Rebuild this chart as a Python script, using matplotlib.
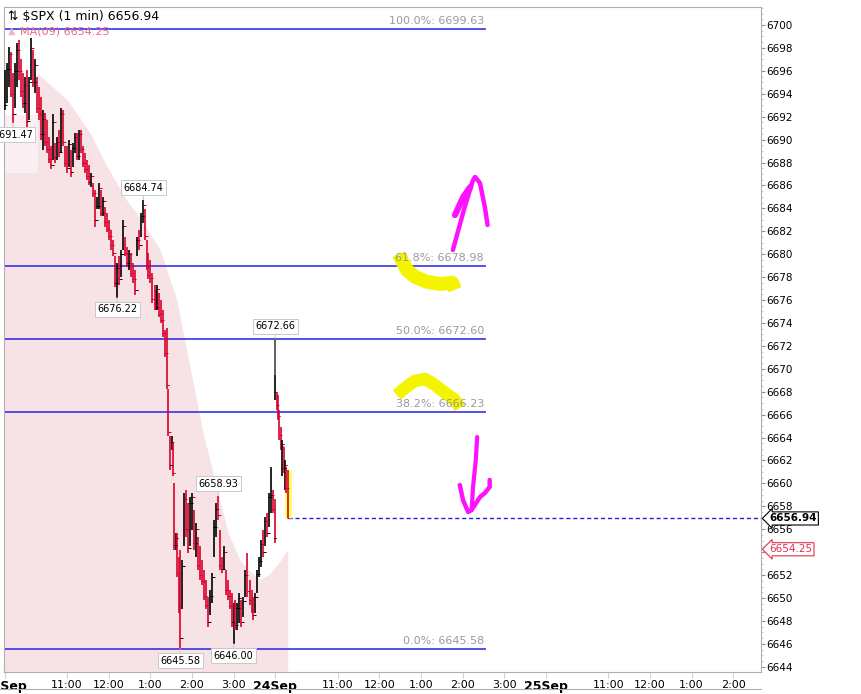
import matplotlib
matplotlib.use('Agg')
import matplotlib.pyplot as plt
from matplotlib.lines import Line2D
from matplotlib.ticker import MultipleLocator
import numpy as np

# $SPX 1 min bars, read about every 3 minutes (minutes from 23Sep 9:30)
bar_min = [0, 3, 6, 9, 12, 15, 18, 21, 24, 27, 29, 32, 35, 38, 41, 44, 47, 50, 52, 55,
           58, 61, 64, 67, 70, 73, 75, 78, 81, 84, 87, 90, 93, 96, 98, 101, 104, 107, 110, 113,
           116, 119, 122, 124, 127, 130, 133, 136, 139, 142, 145, 148, 151, 153, 156, 159, 162, 165, 168, 171,
           174, 177, 179, 182, 185, 188, 191, 194, 197, 200, 202, 205, 207, 210, 213, 216, 218, 220, 222, 225,
           228, 231, 234, 236, 238, 241, 243, 244, 247, 249, 251, 253, 256, 259, 261, 264, 267, 270, 273, 276,
           279, 281, 284, 287, 290, 293, 296, 299, 302, 305, 308, 310, 313, 316, 319, 322, 325, 328, 330, 332,
           335, 338, 341, 344, 347, 350, 353, 356, 358, 361, 364, 367, 370, 373, 375, 378, 381, 384, 387, 389,
           390, 392, 394, 396, 398, 400, 402, 404, 406, 408]
bar_high = [6696.1, 6696.7, 6698.1, 6697.6, 6695.8, 6696.7, 6698.4, 6698.7, 6697.0, 6695.8, 6695.5, 6696.1, 6695.5, 6698.9, 6697.8, 6697.0, 6695.5, 6694.6, 6693.7, 6692.6,
            6692.3, 6691.7, 6690.2, 6689.4, 6692.2, 6689.7, 6690.2, 6690.8, 6692.8, 6692.6, 6689.4, 6689.4, 6690.0, 6689.1, 6689.7, 6690.6, 6690.6, 6690.8, 6690.8, 6689.4,
            6688.8, 6688.2, 6687.8, 6687.1, 6686.2, 6685.6, 6685.0, 6686.2, 6685.6, 6685.0, 6684.1, 6683.6, 6683.0, 6682.1, 6681.2, 6679.8, 6679.2, 6679.8, 6680.4, 6683.0,
            6681.5, 6680.6, 6680.4, 6680.1, 6679.2, 6678.6, 6681.5, 6682.1, 6683.6, 6684.74, 6683.9, 6681.2, 6680.1, 6679.5, 6678.4, 6677.3, 6676.9, 6677.3, 6676.6, 6676.0,
            6675.1, 6673.4, 6673.6, 6668.2, 6664.1, 6664.1, 6663.5, 6660.0, 6655.7, 6655.7, 6653.6, 6654.2, 6653.3, 6659.2, 6659.4, 6658.3, 6658.8, 6659.2, 6657.7, 6656.5,
            6655.3, 6654.5, 6653.3, 6652.4, 6651.6, 6650.1, 6650.7, 6652.2, 6656.8, 6658.3, 6658.93, 6655.9, 6653.6, 6654.5, 6652.4, 6651.6, 6650.7, 6650.4, 6649.6, 6649.8,
            6649.6, 6650.4, 6649.8, 6650.1, 6652.4, 6653.9, 6651.6, 6650.7, 6650.1, 6650.4, 6652.4, 6653.6, 6655.1, 6655.9, 6657.1, 6657.4, 6659.2, 6661.4, 6659.4, 6658.6,
            6672.66, 6667.9, 6667.7, 6666.4, 6664.9, 6663.8, 6663.2, 6662.0, 6661.4, 6661.2]
bar_low = [6692.6, 6693.2, 6694.6, 6693.7, 6691.47, 6692.8, 6694.6, 6695.2, 6693.7, 6692.8, 6692.3, 6690.8, 6691.7, 6695.2, 6694.6, 6694.1, 6692.3, 6691.7, 6690.0, 6689.1,
           6689.4, 6688.8, 6688.0, 6687.4, 6688.2, 6688.0, 6688.2, 6688.5, 6688.8, 6689.4, 6687.6, 6687.1, 6687.6, 6686.7, 6687.6, 6688.8, 6688.2, 6688.2, 6688.8, 6687.6,
           6687.1, 6686.5, 6686.0, 6685.9, 6685.0, 6682.4, 6683.9, 6683.9, 6683.3, 6683.3, 6682.4, 6681.9, 6681.2, 6680.4, 6679.8, 6677.1, 6676.22, 6677.3, 6678.0, 6680.4,
           6679.8, 6678.9, 6678.6, 6678.0, 6677.5, 6676.4, 6679.8, 6680.4, 6681.5, 6682.7, 6681.2, 6678.6, 6677.8, 6677.5, 6675.7, 6675.1, 6675.1, 6675.1, 6674.5, 6674.0,
           6672.8, 6671.0, 6668.2, 6664.1, 6661.2, 6662.9, 6660.6, 6654.2, 6654.2, 6651.8, 6648.7, 6645.58, 6649.0, 6654.5, 6655.3, 6653.9, 6654.5, 6655.9, 6654.2, 6653.6,
           6652.4, 6651.6, 6651.1, 6649.8, 6649.0, 6647.5, 6648.5, 6649.6, 6653.6, 6655.3, 6656.8, 6652.4, 6652.2, 6652.4, 6650.3, 6649.8, 6649.0, 6647.5, 6646.0, 6647.2,
           6647.2, 6647.8, 6647.5, 6648.3, 6650.1, 6650.1, 6649.4, 6648.7, 6648.1, 6648.7, 6650.4, 6651.8, 6652.7, 6653.6, 6654.5, 6655.3, 6656.2, 6657.4, 6657.4, 6654.8,
           6667.3, 6666.4, 6665.5, 6663.8, 6662.9, 6660.6, 6660.9, 6659.4, 6659.2, 6656.94]
bar_close = [6693.0, 6696.2, 6697.5, 6694.0, 6692.2, 6696.0, 6697.8, 6696.0, 6694.2, 6693.2, 6694.8, 6691.6, 6695.0, 6698.0, 6695.0, 6696.5, 6692.8, 6692.2, 6690.5, 6691.8,
             6689.8, 6689.2, 6688.3, 6687.8, 6691.5, 6688.5, 6689.8, 6688.9, 6692.2, 6689.8, 6688.0, 6687.5, 6689.6, 6687.2, 6689.3, 6690.2, 6688.6, 6690.5, 6689.2, 6688.0,
             6687.4, 6686.8, 6686.3, 6686.8, 6685.3, 6683.0, 6684.2, 6685.8, 6683.6, 6684.6, 6682.8, 6682.2, 6681.6, 6680.8, 6680.1, 6677.5, 6678.8, 6677.8, 6680.0, 6682.5,
             6680.1, 6679.2, 6680.0, 6678.4, 6677.8, 6676.9, 6681.2, 6680.8, 6683.3, 6684.3, 6681.6, 6679.0, 6678.2, 6677.9, 6676.1, 6675.6, 6675.4, 6677.0, 6674.8, 6674.3,
             6673.1, 6671.4, 6668.6, 6664.5, 6661.6, 6663.6, 6660.9, 6654.6, 6655.2, 6652.2, 6649.2, 6646.5, 6652.8, 6658.6, 6656.0, 6654.4, 6658.3, 6658.8, 6654.8, 6656.0,
             6652.9, 6652.0, 6651.5, 6650.2, 6649.4, 6647.9, 6650.2, 6651.8, 6656.2, 6657.8, 6657.2, 6652.9, 6652.5, 6654.0, 6650.7, 6650.2, 6649.3, 6647.9, 6649.2, 6647.6,
             6649.1, 6650.0, 6647.9, 6649.7, 6652.0, 6650.6, 6649.8, 6649.0, 6648.5, 6650.1, 6652.1, 6653.2, 6654.7, 6654.0, 6656.7, 6655.7, 6658.8, 6659.0, 6657.8, 6655.2,
             6668.0, 6666.8, 6665.9, 6664.2, 6663.3, 6663.4, 6661.3, 6661.6, 6659.6, 6656.94]
open_gap_top = 6669.5  # the 24Sep opening bar is drawn grey above this

# shaded MA(09) band
ma_min = [47, 90, 123, 148, 176, 195, 224, 248, 267, 286, 303, 322, 339, 354, 368, 382, 397, 408]
ma_val = [6695.8, 6693.5, 6690.6, 6687.6, 6684.7, 6683.2, 6680.4, 6676.0, 6670.2, 6664.4,
          6660.3, 6655.7, 6653.3, 6652.3, 6651.6, 6652.1, 6653.2, 6654.25]
early_min = [-1, 48]
early_top = 6692.15
early_mid = 6687.1

# Fibonacci retracement
fib_pct = ['100.0%', '61.8%', '50.0%', '38.2%', '0.0%']
fib_val = [6699.63, 6678.98, 6672.60, 6666.23, 6645.58]
fib_end = 694

# high / low call-outs
callout_min = [12, 200, 162, 390, 308, 253, 330]
callout_val = [6691.47, 6684.74, 6676.22, 6672.66, 6658.93, 6645.58, 6646.00]
callout_side = ['below', 'above', 'below', 'above', 'above', 'below', 'below']

last_price = 6656.94
ma_last = 6654.25

# x axis
day_ticks = [0, 390, 780]
day_labels = ['23Sep', '24Sep', '25Sep']
hour_ticks = [90, 150, 210, 270, 330, 480, 540, 600, 660, 720, 870, 930, 990, 1050]
hour_labels = ['11:00', '12:00', '1:00', '2:00', '3:00', '11:00', '12:00', '1:00', '2:00', '3:00',
               '11:00', '12:00', '1:00', '2:00']
y_ticks = list(range(6644, 6702, 2))
y_hidden = [6654]  # covered by the MA price tag

# hand drawn marks
yellow1_min = [568, 572, 580, 592, 608, 627, 645, 649]
yellow1_val = [6680.0, 6679.5, 6678.6, 6678.0, 6677.6, 6677.4, 6677.5, 6676.9]
yellow2_min = [565, 577, 591, 606, 620, 635, 649, 656]
yellow2_val = [6667.71, 6668.32, 6668.94, 6669.11, 6668.59, 6667.89, 6667.28, 6666.58]
up_min = [646, 663, 675, 678, 685, 692, 696]
up_val = [6680.37, 6684.12, 6686.47, 6686.74, 6686.21, 6684.12, 6682.55]
upbarb_min = [649, 661, 671]
upbarb_val = [6683.42, 6684.99, 6685.86]
down_min = [681, 679, 675, 673]
down_val = [6664.05, 6662.04, 6659.69, 6657.68]
downbarb_min = [656, 660.5, 668, 673, 685, 692, 699, 699]
downbarb_val = [6659.86, 6658.55, 6657.50, 6657.68, 6658.81, 6659.16, 6659.69, 6660.30]

W, H = 861, 694
fig = plt.figure(figsize=(W / 100, H / 100), dpi=100, facecolor='white')
ax = fig.add_axes([4 / W, 22 / H, 757 / W, 665 / H])
ymin, ymax = 6643.54, 6701.57
xmin, xmax = -0.9, 1090
ax.set_xlim(xmin, xmax)
ax.set_ylim(ymin, ymax)

pink = '#f7e3e5'
ax.fill_between(ma_min, ma_val, ymin, color=pink, lw=0, zorder=1)
ax.fill_between(early_min, early_mid, ymin, color=pink, lw=0, zorder=1)
ax.fill_between(early_min, early_top, early_mid, color='#fbeff3', lw=0, zorder=1)

blue = '#2323e6'
ax.hlines(fib_val, xmin, fib_end, colors=blue, lw=1.1, zorder=2)
for pct, v in zip(fib_pct, fib_val):
    ax.annotate(f'{pct}: {v:.2f}', xy=(fib_end - 3, v), xytext=(0, 2), textcoords='offset points',
                ha='right', va='bottom', fontsize=8, color='#9a9a9a', zorder=4)

# highlighter marks under the text
ax.plot(yellow1_min, yellow1_val, color='#f4f400', lw=10, solid_capstyle='butt',
        solid_joinstyle='round', zorder=2.5)
ax.plot(yellow2_min, yellow2_val, color='#f4f400', lw=9, solid_capstyle='butt',
        solid_joinstyle='round', zorder=2.5)

# price bars
bm = np.array(bar_min, dtype=float)
hi = np.array(bar_high)
lo = np.array(bar_low)
cl = np.array(bar_close)
prev = np.concatenate([[cl[0]], cl[:-1]])
cols = np.where(cl >= prev, '#000000', '#d8002c')
ax.vlines(bm[-1], lo[-1], hi[-1], colors='#ffff66', lw=5, zorder=2.8)
ax.vlines(bm, lo, hi, colors=cols, lw=1.2, zorder=3)
ax.vlines(bm[140], open_gap_top, hi[140], colors='#707070', lw=1.2, zorder=3.1)
ax.scatter(bm + 0.6, cl, marker='_', s=3, c=cols, linewidths=0.7, zorder=3)
ax.scatter(bm - 0.6, prev, marker='_', s=3, c=cols, linewidths=0.7, zorder=3)

ax.hlines(last_price, bm[-1], xmax, colors=blue, linestyles=(0, (3, 2)), lw=1.0, zorder=2)

for m, v, side in zip(callout_min, callout_val, callout_side):
    dy = 5 if side == 'above' else -5
    ax.annotate(f'{v:.2f}', xy=(m, v), xytext=(0, dy), textcoords='offset points',
                ha='center', va='bottom' if side == 'above' else 'top', fontsize=7,
                bbox=dict(boxstyle='square,pad=0.25', fc='white', ec='#c8c8c8', lw=0.7),
                arrowprops=dict(arrowstyle='-', color='#c8c8c8', lw=0.7, shrinkA=0, shrinkB=0),
                zorder=5, annotation_clip=False)

mag = '#ff10ff'
ax.plot(up_min, up_val, color=mag, lw=3.2, solid_capstyle='round', solid_joinstyle='round', zorder=6)
ax.plot(upbarb_min, upbarb_val, color=mag, lw=4.5, solid_capstyle='round', zorder=6)
ax.plot(down_min, down_val, color=mag, lw=3.0, solid_capstyle='round', solid_joinstyle='round', zorder=6)
ax.plot(downbarb_min, downbarb_val, color=mag, lw=3.2, solid_capstyle='round',
        solid_joinstyle='round', zorder=6)

# axes styling
for s in ax.spines.values():
    s.set_color('#b0b0b0')
    s.set_linewidth(0.8)
ax.yaxis.tick_right()
ax.set_yticks(y_ticks)
ax.set_yticklabels(['' if t in y_hidden else str(t) for t in y_ticks])
ax.yaxis.set_minor_locator(MultipleLocator(0.5))
ax.tick_params(axis='y', which='major', length=3, pad=1, labelsize=7.5, color='#909090')
ax.tick_params(axis='y', which='minor', length=1.5, color='#c0c0c0')

ax.set_xticks(day_ticks + hour_ticks)
ax.set_xticklabels(day_labels + hour_labels)
ax.tick_params(axis='x', length=4, color='#d0d0d0', pad=2)
for lab in ax.get_xticklabels():
    if lab.get_text() in day_labels:
        lab.set_fontweight('bold')
        lab.set_fontsize(9)
    else:
        lab.set_fontsize(8)
    lab.set_family(['Liberation Sans Narrow', 'DejaVu Sans'])

# right side price tags
ax.annotate(f'{last_price:.2f}', xy=(1, last_price), xycoords=('axes fraction', 'data'),
            xytext=(6, 0), textcoords='offset points', ha='left', va='center', fontsize=7.5,
            fontweight='bold', bbox=dict(boxstyle='larrow,pad=0.15', fc='white', ec='black', lw=0.8),
            zorder=10, annotation_clip=False)
ax.annotate(f'{ma_last:.2f}', xy=(1, ma_last), xycoords=('axes fraction', 'data'),
            xytext=(6, 0), textcoords='offset points', ha='left', va='center', fontsize=7.5,
            color='#e0304e', bbox=dict(boxstyle='larrow,pad=0.15', fc='white', ec='#e0304e', lw=0.8),
            zorder=10, annotation_clip=False)

# header texts
fig.text(8 / W, 1 - 16 / H, '\u21c5 $SPX (1 min) 6656.94', fontsize=9, va='center', ha='left')
fig.text(8 / W, 1 - 31 / H, '\u25b2', fontsize=7, color='#f2b8c2', va='center', ha='left')
fig.text(20 / W, 1 - 31 / H, 'MA(09) 6654.25', fontsize=8, color='#e86a80', va='center', ha='left')

# edge of the panel below
fig.add_artist(Line2D([0, 761 / W], [1 - 689 / H, 1 - 689 / H], color='#b0b0b0', lw=0.8))

fig.savefig('out.png', dpi=100, facecolor='white')
